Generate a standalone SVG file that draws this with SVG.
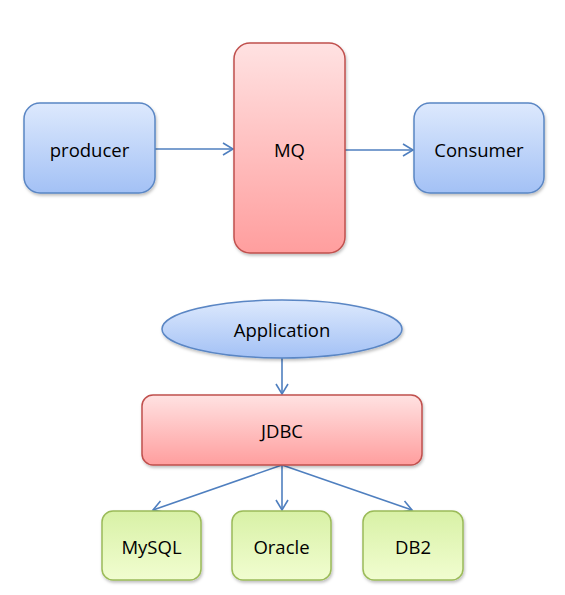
<svg xmlns="http://www.w3.org/2000/svg" width="565" height="595" viewBox="0 0 565 595">
<defs>
<linearGradient id="gBlue" x1="0" y1="0" x2="0" y2="1"><stop offset="0" stop-color="#dde9fd"/><stop offset="1" stop-color="#a3c1f5"/></linearGradient>
<linearGradient id="gRed" x1="0" y1="0" x2="0" y2="1"><stop offset="0" stop-color="#ffe2e2"/><stop offset="1" stop-color="#ff9e9e"/></linearGradient>
<linearGradient id="gGreen" x1="0" y1="0" x2="0" y2="1"><stop offset="0" stop-color="#d8f1a6"/><stop offset="1" stop-color="#f1fdd0"/></linearGradient>
<filter id="sh" x="-10%" y="-10%" width="125%" height="130%"><feDropShadow dx="1" dy="2" stdDeviation="1.5" flood-color="#000" flood-opacity="0.25"/></filter>
<marker id="arr" markerWidth="14" markerHeight="14" refX="11" refY="7" orient="auto" markerUnits="userSpaceOnUse"><path d="M1,1 L11,7 L1,13" fill="none" stroke="#4f7fbf" stroke-width="1.6"/></marker>
</defs>
<style>
.blue{fill:url(#gBlue);stroke:#5a86c4;stroke-width:1.5;filter:url(#sh)}
.red{fill:url(#gRed);stroke:#c0504d;stroke-width:1.5;filter:url(#sh)}
.green{fill:url(#gGreen);stroke:#9bbb59;stroke-width:1.5;filter:url(#sh)}
.t{font-family:"Open Sans","Noto Sans","Liberation Sans",sans-serif;font-size:18.5px;fill:#000;text-anchor:middle;dominant-baseline:central}
.c{stroke:#4f7fbf;stroke-width:1.6;fill:none;marker-end:url(#arr)}
</style>
<rect width="565" height="595" fill="#fff"/>
<g id="connectors">
<line class="c" x1="155" y1="149" x2="233" y2="149"/>
<line class="c" x1="345" y1="150" x2="413" y2="150"/>
<line class="c" x1="282" y1="358" x2="282" y2="394"/>
<line class="c" x1="282" y1="465" x2="153" y2="510"/>
<line class="c" x1="282" y1="465" x2="282" y2="510"/>
<line class="c" x1="282" y1="465" x2="412" y2="510"/>
</g>
<g id="producer"><rect class="blue" x="24" y="103" width="131" height="90" rx="16"/><text class="t" x="89.5" y="149">producer</text></g>
<g id="mq"><rect class="red" x="234" y="43" width="111" height="210" rx="16"/><text class="t" x="289.5" y="149">MQ</text></g>
<g id="consumer"><rect class="blue" x="414" y="103" width="130" height="90" rx="16"/><text class="t" x="479" y="149">Consumer</text></g>
<g id="application"><ellipse class="blue" cx="282" cy="329" rx="120" ry="29"/><text class="t" x="282" y="329">Application</text></g>
<g id="jdbc"><rect class="red" x="142" y="395" width="280" height="70" rx="11"/><text class="t" x="282" y="430">JDBC</text></g>
<g id="mysql"><rect class="green" x="102" y="511" width="99" height="69" rx="11"/><text class="t" x="151.5" y="546">MySQL</text></g>
<g id="oracle"><rect class="green" x="232" y="511" width="99" height="69" rx="11"/><text class="t" x="281.5" y="546">Oracle</text></g>
<g id="db2"><rect class="green" x="363" y="511" width="100" height="69" rx="11"/><text class="t" x="413" y="546">DB2</text></g>
</svg>
